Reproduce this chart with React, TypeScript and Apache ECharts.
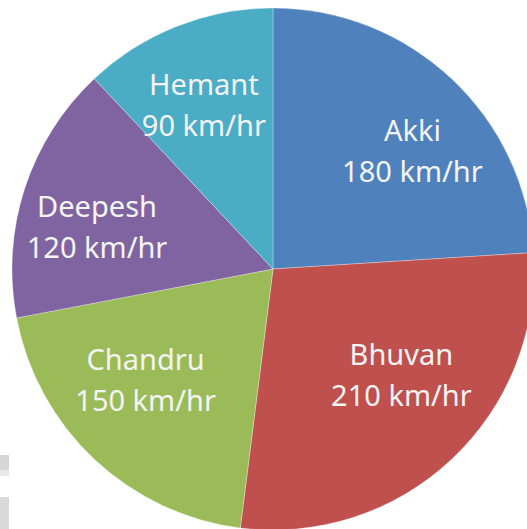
import React, { useEffect, useRef } from "react";
import * as echarts from "echarts";

const names = ["Akki", "Bhuvan", "Chandru", "Deepesh", "Hemant"];
const speeds = [180, 210, 150, 120, 90];
const colors = ["#4F81BD", "#C0504D", "#9BBB59", "#8064A2", "#4BACC6"];
const labelShift: [number, number][] = [
  [48, -22],
  [37, 8],
  [-36, 13],
  [-49, -2],
  [-20, -41],
];

export default function App() {
  const ref = useRef<HTMLDivElement>(null);
  useEffect(() => {
    document.body.style.margin = "0";
    const chart = echarts.init(ref.current!, null, { renderer: "svg" });
    chart.setOption({
      animation: false,
      backgroundColor: "#ffffff",
      graphic: [
        { type: "rect", shape: { x: 0, y: 455, width: 9, height: 15 }, style: { fill: "#d6d6d6" } },
        { type: "rect", shape: { x: 0, y: 470, width: 9, height: 6 }, style: { fill: "#e8e8e8" } },
        { type: "rect", shape: { x: 0, y: 497, width: 9, height: 32 }, style: { fill: "#d9d9d9" } },
      ],
      series: [
        {
          type: "pie",
          center: [273, 269],
          radius: 261,
          startAngle: 90,
          clockwise: true,
          avoidLabelOverlap: false,
          minShowLabelAngle: 0,
          itemStyle: { borderColor: "rgba(255,255,255,0.5)", borderWidth: 0.6 },
          label: {
            show: true,
            position: "inside",
            formatter: "{b}\n{c} km/hr",
            color: "#f4f4f4",
            fontFamily: "Noto Sans",
            fontSize: 29,
            lineHeight: 41,
            align: "center",
          },
          labelLine: { show: false },
          labelLayout: (p: any) => ({ dx: labelShift[p.dataIndex][0], dy: labelShift[p.dataIndex][1] }),
          emphasis: { disabled: true },
          data: names.map((n, i) => ({ name: n, value: speeds[i], itemStyle: { color: colors[i] } })),
        },
      ],
    });
    return () => chart.dispose();
  }, []);
  return <div ref={ref} style={{ width: 527, height: 529 }} />;
}
